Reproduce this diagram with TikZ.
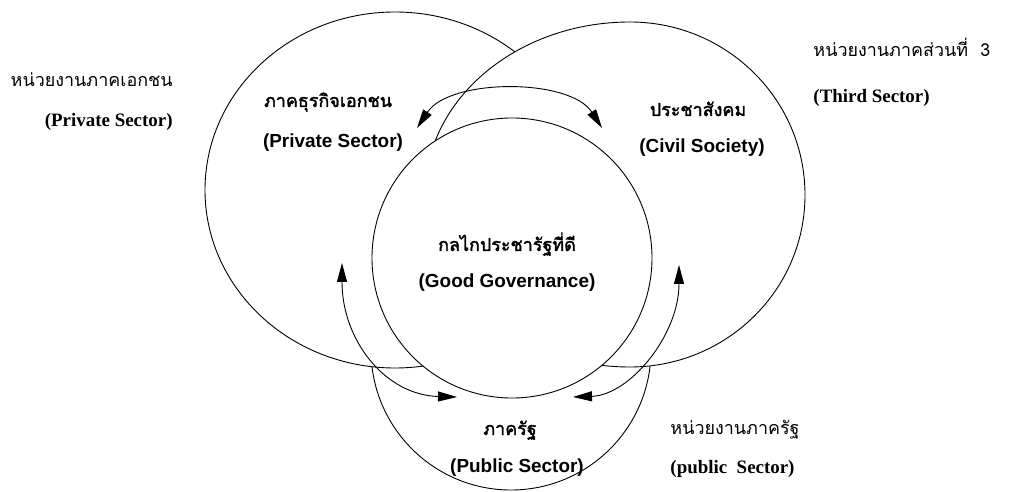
\documentclass[tikz,border=0pt]{standalone}
\usepackage{fontspec}
\setmainfont{Liberation Serif}
\setsansfont{Liberation Sans}
\newfontfamily\thaifont[Script=Thai,AutoFakeBold=2]{Loma}
\usetikzlibrary{arrows.meta}

% closed curve of four quarter ellipses: cx, cy, left rx, right rx, top ry, bottom ry
\newcommand{\blobpath}[6]{%
	(#1,{#2-#5}) .. controls ({#1+0.5523*#4},{#2-#5}) and ({#1+#4},{#2-0.5523*#5}) .. ({#1+#4},#2)
	.. controls ({#1+#4},{#2+0.5523*#6}) and ({#1+0.5523*#4},{#2+#6}) .. (#1,{#2+#6})
	.. controls ({#1-0.5523*#3},{#2+#6}) and ({#1-#3},{#2+0.5523*#6}) .. ({#1-#3},#2)
	.. controls ({#1-#3},{#2-0.5523*#5}) and ({#1-0.5523*#3},{#2-#5}) .. (#1,{#2-#5}) -- cycle}

\begin{document}
\begin{tikzpicture}[x=1bp,y=-1bp,line width=0.9bp]
	\tikzset{outerth/.style={font=\thaifont\fontsize{18}{21}\selectfont,inner sep=0pt},
		outeren/.style={font=\bfseries\fontsize{19}{22}\selectfont,inner sep=0pt},
		innerth/.style={font=\thaifont\bfseries\fontsize{18}{21}\selectfont,inner sep=0pt},
		inneren/.style={font=\sffamily\bfseries\fontsize{19}{22}\selectfont,inner sep=0pt},
		link/.style={{Triangle[length=19bp,width=10bp]}-{Triangle[length=19bp,width=10bp]}}}
	\useasboundingbox (0,0) rectangle (1032,492);
	% sectors
	\draw[fill=white] (511,350) circle[radius=140bp];
	\draw[fill=white] (395,190) ellipse[x radius=190bp,y radius=178bp];
	\draw[fill=white] \blobpath{630}{195}{205}{175}{173}{172};
	\draw[fill=white] (512,258) circle[radius=140bp];
	% arrow ends
	\coordinate (privT) at (417,128);
	\coordinate (civT) at (602,128);
	\coordinate (privB) at (342,263);
	\coordinate (pubL) at (457,397);
	\coordinate (civB) at (679,265);
	\coordinate (pubR) at (573,397);
	\draw[link] (privT) .. controls (450,78) and (570,78) .. (civT);
	\draw[link] (privB) .. controls (342,340) and (385,395) .. (pubL);
	\draw[link] (civB) .. controls (679,335) and (630,395) .. (pubR);
	% labels inside
	\node[innerth,anchor=base] (privth) at (328,107) {ภาคธุรกิจเอกชน};
	\node[inneren,anchor=base] (priven) at (333,148) {(Private Sector)};
	\node[innerth,anchor=base] (civth) at (698,116) {ประชาสังคม};
	\node[inneren,anchor=base] (civen) at (702,153) {(Civil Society)};
	\node[innerth,anchor=base] (govth) at (507,251) {กลไกประชารัฐที่ดี};
	\node[inneren,anchor=base] (goven) at (507,288) {(Good Governance)};
	\node[innerth,anchor=base] (pubth) at (510,435) {ภาครัฐ};
	\node[inneren,anchor=base] (puben) at (517,472) {(Public Sector)};
	% labels outside
	\node[outerth,anchor=base east] (leftth) at (173,87) {หน่วยงานภาคเอกชน};
	\node[outeren,anchor=base east] (leften) at (173,127) {(Private Sector)};
	\node[outerth,anchor=base west] (rightth) at (813,57) {หน่วยงานภาคส่วนที่\ \ 3};
	\node[outeren,anchor=base west] (righten) at (813,103) {(Third Sector)};
	\node[outerth,anchor=base west] (lowth) at (670,434) {หน่วยงานภาครัฐ};
	\node[outeren,anchor=base west] (lowen) at (670,473) {(public\ \ Sector)};
\end{tikzpicture}
\end{document}
